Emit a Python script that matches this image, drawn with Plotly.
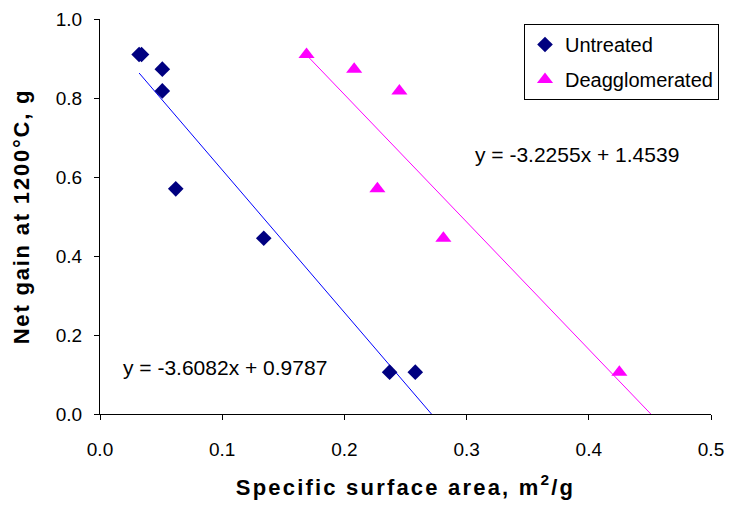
import plotly.graph_objects as go

# Data
untreated_x = [0.032, 0.034, 0.051, 0.051, 0.062, 0.134, 0.237, 0.258]
untreated_y = [0.910, 0.910, 0.873, 0.818, 0.570, 0.445, 0.106, 0.106]
deag_x = [0.169, 0.208, 0.245, 0.227, 0.281, 0.425]
deag_y = [0.910, 0.873, 0.818, 0.570, 0.445, 0.106]

untreated_fit = (-3.6082, 0.9787)  # slope, intercept
deag_fit = (-3.2255, 1.4539)

x_ticks = [0.0, 0.1, 0.2, 0.3, 0.4, 0.5]
y_ticks = [0.0, 0.2, 0.4, 0.6, 0.8, 1.0]


def fit_line(xs, fit):
    m, b = fit
    x0 = min(xs)
    x1 = -b / m  # trend line runs down to the x axis
    return [x0, x1], [m * x0 + b, m * x1 + b]


FONT = "Liberation Sans, Arial, sans-serif"

fig = go.Figure()

lx, ly = fit_line(untreated_x, untreated_fit)
fig.add_trace(go.Scatter(x=lx, y=ly, mode="lines", line=dict(color="#0000FF", width=1),
                         showlegend=False, hoverinfo="skip"))
lx, ly = fit_line(deag_x, deag_fit)
fig.add_trace(go.Scatter(x=lx, y=ly, mode="lines", line=dict(color="#FF00FF", width=1),
                         showlegend=False, hoverinfo="skip"))

fig.add_trace(go.Scatter(x=untreated_x, y=untreated_y, mode="markers", name="Untreated",
                         legendgroup="a",
                         marker=dict(symbol="diamond", size=12, color="#000080",
                                     line=dict(width=0))))
fig.add_trace(go.Scatter(x=deag_x, y=deag_y, mode="markers", name="Deagglomerated",
                         legendgroup="b",
                         marker=dict(symbol="triangle-up", size=14, color="#FF00FF",
                                     line=dict(width=0))))

fig.add_annotation(x=0.1025, y=0.1165, xref="x", yref="y", showarrow=False,
                   text=f"y = {untreated_fit[0]:.4f}x + {untreated_fit[1]:.4f}",
                   font=dict(family=FONT, size=21, color="black"))
fig.add_annotation(x=0.3905, y=0.656, xref="x", yref="y", showarrow=False,
                   text=f"y = {deag_fit[0]:.4f}x + {deag_fit[1]:.4f}",
                   font=dict(family=FONT, size=21, color="black"))

fig.update_layout(
    width=730, height=510, autosize=False,
    margin=dict(l=99.5, r=18.5, t=19, b=96, autoexpand=False),
    paper_bgcolor="white", plot_bgcolor="white",
    font=dict(family=FONT, color="black"),
    legend=dict(xref="container", yref="container", x=524 / 730, y=1 - 24 / 510,
                xanchor="left", yanchor="top",
                bordercolor="black", borderwidth=1, bgcolor="white",
                font=dict(family=FONT, size=20, color="black"),
                tracegroupgap=6, traceorder="grouped", itemwidth=30),
    xaxis=dict(range=[0, 0.5], tickvals=x_ticks, ticktext=[f"{v:.1f}" for v in x_ticks],
               showline=True, linecolor="black", linewidth=1, ticks="outside",
               ticklen=5, tickcolor="black", showgrid=False, zeroline=False,
               tickfont=dict(family=FONT, size=19), ticklabelstandoff=13,
               title=dict(text="<b>Specific surface area, m<sup>2</sup>/g</b>",
                          font=dict(family=FONT, size=22), standoff=20),
               automargin=False),
    yaxis=dict(range=[0, 1], tickvals=y_ticks, ticktext=[f"{v:.1f}" for v in y_ticks],
               showline=True, linecolor="black", linewidth=1, ticks="outside",
               ticklen=5, tickcolor="black", showgrid=False, zeroline=False,
               tickfont=dict(family=FONT, size=19), ticklabelstandoff=8,
               title=dict(text="<b>Net gain at 1200°C, g</b>",
                          font=dict(family=FONT, size=22), standoff=20),
               automargin=False),
)

post = """
document.querySelectorAll('.g-xtitle text').forEach(function(e){
  e.style.letterSpacing = '2.2px';
});
document.querySelectorAll('.g-ytitle text').forEach(function(e){
  e.style.letterSpacing = '1.8px';
});
"""

fig.write_html("out.html", post_script=post)
